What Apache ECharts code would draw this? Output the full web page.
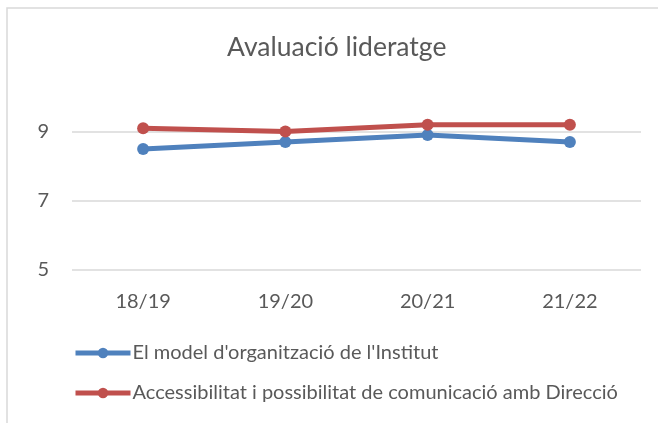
<!DOCTYPE html>
<html>
<head>
<meta charset="utf-8">
<script src="https://cdn.jsdelivr.net/npm/echarts@6/dist/echarts.min.js"></script>
<style>
html,body{margin:0;padding:0;background:#fff;}
#chart{width:658px;height:423px;}
</style>
</head>
<body>
<div id="chart"></div>
<script>
const titleText = "Avaluació lideratge";
const categories = ["18/19", "19/20", "20/21", "21/22"];
const seriesNames = ["El model d'organització de l'Institut", "Accessibilitat i possibilitat de comunicació amb Direcció"];
const modelValues = [8.5, 8.7, 8.9, 8.7];
const accessValues = [9.1, 9.0, 9.2, 9.2];
const yTicks = [5, 7, 9];

const chart = echarts.init(document.getElementById('chart'), null, {renderer: 'canvas'});
const font = 'Lato';
const gridColor = '#d9d9d9';
const option = {
  animation: false,
  backgroundColor: '#ffffff',
  title: {
    text: titleText,
    left: 227,
    top: 34,
    padding: 0,
    textStyle: {fontFamily: font, fontSize: 26.5, fontWeight: 'normal', color: '#595959'}
  },
  graphic: [{
    type: 'rect',
    shape: {x: 7, y: 8, width: 800, height: 600},
    style: {fill: 'none', stroke: '#d9d9d9', lineWidth: 1.5},
    silent: true
  }],
  grid: {left: 72, right: 17, top: 97, bottom: 153, containLabel: false},
  xAxis: {
    type: 'category',
    data: categories,
    boundaryGap: true,
    axisLine: {show: false},
    axisTick: {show: false},
    axisLabel: {fontFamily: font, fontSize: 20, color: '#595959', margin: 22}
  },
  yAxis: {
    type: 'value',
    min: yTicks[0],
    max: 10,
    interval: 2,
    axisLine: {show: false},
    axisTick: {show: false},
    axisLabel: {
      fontFamily: font, fontSize: 20, color: '#595959', margin: 23,
      formatter: v => yTicks.indexOf(v) >= 0 ? String(v) : ''
    },
    splitLine: {lineStyle: {color: [gridColor, gridColor, gridColor, 'rgba(0,0,0,0)'], width: 1.5}}
  },
  legend: {
    orient: 'vertical',
    left: 73,
    top: 343,
    padding: 0,
    itemWidth: 55,
    itemHeight: 13,
    itemGap: 20,
    lineStyle: {width: 5},
    textStyle: {fontFamily: font, fontSize: 20, color: '#595959', padding: [0,0,0,-3]},
    data: seriesNames
  },
  series: [
    {
      name: seriesNames[0], type: 'line', data: modelValues,
      symbol: 'circle', symbolSize: 12,
      lineStyle: {width: 5, color: '#4f81bd'},
      itemStyle: {color: '#4f81bd'}
    },
    {
      name: seriesNames[1], type: 'line', data: accessValues,
      symbol: 'circle', symbolSize: 12,
      lineStyle: {width: 5, color: '#c0504d'},
      itemStyle: {color: '#c0504d'}
    }
  ]
};
chart.setOption(option);
</script>
</body>
</html>
